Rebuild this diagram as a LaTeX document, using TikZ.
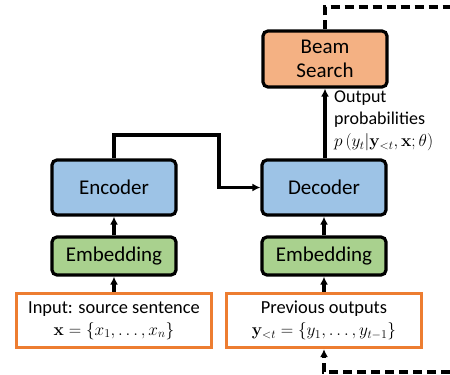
\documentclass[tikz,border=0pt]{standalone}
\usepackage[no-math]{fontspec}
\setmainfont{Carlito}
\usetikzlibrary{arrows.meta}
\definecolor{beamfill}{HTML}{F4B183}
\definecolor{bluefill}{HTML}{9DC3E6}
\definecolor{greenfill}{HTML}{A9D18E}
\definecolor{orangeedge}{HTML}{ED7D31}
\tikzset{
  blk/.style={draw=black, line width=3.2pt, rounded corners=5pt, minimum width=124pt, inner sep=0pt, font=\fontsize{21}{25}\selectfont},
  inbox/.style={draw=orangeedge, fill=white, line width=3.2pt, minimum width=195pt, minimum height=54pt, inner sep=0pt, align=center, font=\fontsize{18.4}{21}\selectfont},
  arr/.style={line width=3.2pt, -{Latex[length=8pt,width=8pt]}},
  dsh/.style={line width=3.2pt, dash pattern=on 9pt off 5pt},
  lbl/.style={font=\fontsize{18}{21.5}\selectfont, align=left, inner sep=0pt}
}
\begin{document}
\begin{tikzpicture}[x=1pt,y=-1pt]
\useasboundingbox (0,0) rectangle (450,375);
\node[blk, fill=beamfill, minimum height=56pt, align=center] (beam) at (325,59) {Beam\\[-1pt]Search};
\node[blk, fill=bluefill, minimum height=55pt] (enc) at (114,187.5) {Encoder};
\node[blk, fill=bluefill, minimum height=55pt] (dec) at (324,187.5) {Decoder};
\node[blk, fill=greenfill, minimum height=38pt] (emb1) at (114,256) {Embedding};
\node[blk, fill=greenfill, minimum height=38pt] (emb2) at (324,256) {Embedding};
\node[inbox] (in1) at (114,320.5) {Input: source sentence\\[1pt]$\mathbf{x}=\{x_1,\ldots,x_n\}$};
\node[inbox] (in2) at (324,320.5) {Previous outputs\\[1pt]$\mathbf{y}_{<t}=\{y_1,\ldots,y_{t-1}\}$};
\node[lbl, anchor=north west] (out) at (334,91) {Output\\probabilities\\[1pt]$p\left(y_t|\mathbf{y}_{<t},\mathbf{x};\theta\right)$};
\coordinate (c1) at (219,135);
\coordinate (tr) at (450,7);
\coordinate (br) at (450,372);
\coordinate (tl) at (325,7);
\coordinate (bl) at (324,372);
\draw[arr] (in1) -- (emb1);
\draw[arr] (emb1) -- (enc);
\draw[arr] (in2) -- (emb2);
\draw[arr] (emb2) -- (dec);
\draw[arr] (dec.north -| beam) -- (beam.south);
\draw[arr] (enc.north) |- (c1) |- (dec.west);
\draw[dsh] (beam.north) -- (tl) -- (tr);
\draw[dsh, -{Latex[length=8pt,width=8pt]}] (br) -- (bl) -- (in2.south);
\end{tikzpicture}
\end{document}
